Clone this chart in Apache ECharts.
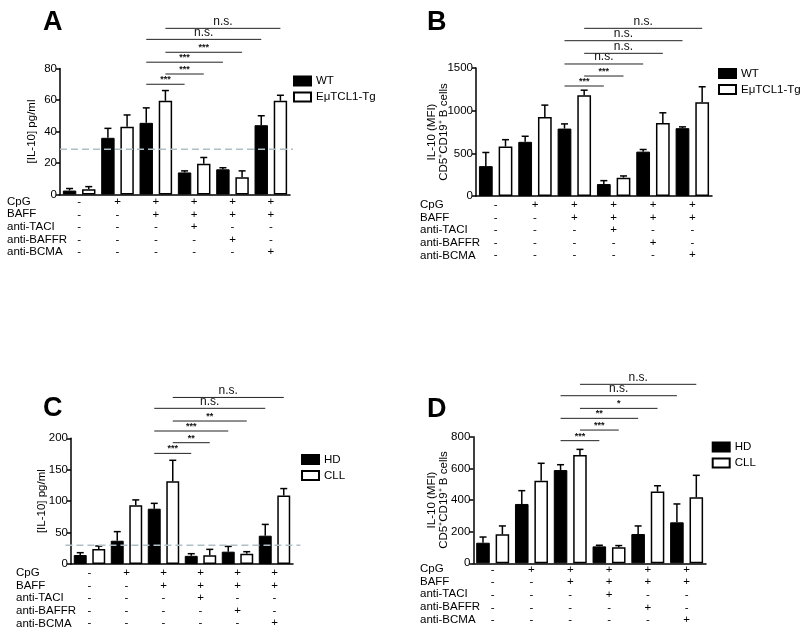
<!DOCTYPE html>
<html><head><meta charset="utf-8">
<script src="https://cdn.jsdelivr.net/npm/echarts@6/dist/echarts.min.js"></script>
<style>html,body{margin:0;padding:0;background:#fff}#c{width:800px;height:630px}</style>
</head><body><div id="c"></div><script>
// ---- condition table ----
const rowNames = ['CpG', 'BAFF', 'anti-TACI', 'anti-BAFFR', 'anti-BCMA'];
const cpg       = ['-', '+', '+', '+', '+', '+'];
const baff      = ['-', '-', '+', '+', '+', '+'];
const antiTACI  = ['-', '-', '-', '+', '-', '-'];
const antiBAFFR = ['-', '-', '-', '-', '+', '-'];
const antiBCMA  = ['-', '-', '-', '-', '-', '+'];
const groups = ['1', '2', '3', '4', '5', '6'];

// ---- Panel A : [IL-10] pg/ml, mouse ----
const aWT     = [2.5, 36, 45.5, 14, 16, 44];
const aWTErr  = [3.8, 42, 55, 15, 17, 50];
const aTg     = [3.3, 43, 59.5, 19.5, 11, 59.5];
const aTgErr  = [5, 50.5, 66, 23.5, 15, 63];
const aLimit  = 28.7;
const aSigFrom = [4, 5, 4, 5, 4, 5];
const aSigTo   = [6, 7, 8, 9, 10, 11];
const aSigY    = [70, 76.5, 84, 90.3, 98.5, 105.5];
const aSigText = ['***', '***', '***', '***', 'n.s.', 'n.s.'];

// ---- Panel B : IL-10 MFI, mouse ----
const bWT     = [350, 635, 790, 140, 520, 795];
const bWTErr  = [510, 700, 845, 180, 545, 810];
const bTg     = [580, 925, 1180, 215, 855, 1100];
const bTgErr  = [660, 1065, 1240, 235, 975, 1280];
const bSigFrom = [4, 5, 4, 5, 4, 5];
const bSigTo   = [6, 7, 8, 9, 10, 11];
const bSigY    = [1289, 1406, 1547, 1672, 1820, 1965];
const bSigText = ['***', '***', 'n.s.', 'n.s.', 'n.s.', 'n.s.'];

// ---- Panel C : [IL-10] pg/ml, human ----
const cHD     = [14.3, 37, 88, 13, 19.6, 45];
const cHDErr  = [18, 51.5, 96.5, 16.4, 28, 63];
const cCLL    = [24, 93.4, 131.5, 13.8, 16.4, 109];
const cCLLErr = [28.6, 102, 165, 23.3, 19.6, 120];
const cLimit  = 30;
const cSigFrom = [4, 5, 4, 5, 4, 5];
const cSigTo   = [6, 7, 8, 9, 10, 11];
const cSigY    = [176, 193, 211.6, 227.5, 247.7, 265];
const cSigText = ['***', '**', '***', '**', 'n.s.', 'n.s.'];

// ---- Panel D : IL-10 MFI, human ----
const dHD     = [130, 375, 589, 107, 185, 259];
const dHDErr  = [166, 459, 623, 114, 236, 375];
const dCLL    = [183, 522, 684, 101, 453, 417];
const dCLLErr = [236, 632, 720, 112, 490, 556];
const dSigFrom = [4, 5, 4, 5, 4, 5];
const dSigTo   = [6, 7, 8, 9, 10, 11];
const dSigY    = [775, 842, 916, 979, 1059, 1131];
const dSigText = ['***', '***', '**', '*', 'n.s.', 'n.s.'];

const FONT = "'Liberation Sans', Arial, Helvetica, sans-serif";
const chart = echarts.init(document.getElementById('c'), null, {renderer: 'canvas'});

const barCenter = k => Math.floor(k / 2) + (k % 2 ? 0.75 : 0.25);

const option = {
  backgroundColor: '#fff',
  animation: false,
  textStyle: {fontFamily: FONT, color: '#000'},
  grid: [], xAxis: [], yAxis: [], series: [], legend: [], graphic: []
};

function addPanel(p) {
  const gi = option.grid.length;
  option.grid.push({left: p.grid[0], top: p.grid[1], width: p.grid[2], height: p.grid[3], containLabel: false});
  const catIdx = option.xAxis.length;
  option.xAxis.push({
    type: 'category', gridIndex: gi, data: groups,
    axisLine: {lineStyle: {color: '#000', width: 1.5}},
    axisTick: {show: false},
    axisLabel: {
      interval: 0, margin: p.labelMargin, fontSize: 11.5, lineHeight: 12.6, color: '#000', fontFamily: FONT,
      formatter: (v, i) => [cpg[i], baff[i], antiTACI[i], antiBAFFR[i], antiBCMA[i]].join('\n')
    }
  });
  const valIdx = option.xAxis.length;
  option.xAxis.push({type: 'value', gridIndex: gi, min: 0, max: 6, show: false});
  const yi = option.yAxis.length;
  option.yAxis.push({
    type: 'value', gridIndex: gi, min: 0, max: p.max, interval: p.interval,
    name: p.yName, nameLocation: 'middle', nameGap: p.nameGap, nameMoveOverlap: false,
    nameTextStyle: {fontSize: 11.5, lineHeight: 12, color: '#000', fontFamily: FONT},
    axisLine: {show: true, lineStyle: {color: '#000', width: 1.5}},
    axisTick: {show: true, length: 4, lineStyle: {color: '#000', width: 1.5}},
    axisLabel: {fontSize: 11.5, color: '#000', margin: 3, fontFamily: FONT, formatter: v => String(v)},
    splitLine: {show: false}
  });
  const barCommon = {
    type: 'bar', xAxisIndex: catIdx, yAxisIndex: yi,
    barWidth: '35%', barGap: '43%'
  };
  option.series.push(Object.assign({}, barCommon, {
    name: p.names[0], data: p.v1,
    itemStyle: {color: '#000', borderColor: '#000', borderWidth: 1}
  }));
  option.series.push(Object.assign({}, barCommon, {
    name: p.names[1], data: p.v2,
    itemStyle: {color: '#fff', borderColor: '#000', borderWidth: 1.5}
  }));
  // error bars
  const errData = [];
  for (let i = 0; i < 6; i++) {
    errData.push([i + 0.25, p.v1[i], p.e1[i]]);
    errData.push([i + 0.75, p.v2[i], p.e2[i]]);
  }
  option.series.push({
    type: 'custom', xAxisIndex: valIdx, yAxisIndex: yi, clip: false, z: 3,
    encode: {x: 0, y: [1, 2]}, data: errData,
    renderItem: (params, api) => {
      const x = api.value(0);
      const p0 = api.coord([x, api.value(1)]);
      const p1 = api.coord([x, api.value(2)]);
      return {type: 'group', children: [
        {type: 'line', shape: {x1: p0[0], y1: p0[1], x2: p1[0], y2: p1[1]}, style: {stroke: '#000', lineWidth: 1.5}},
        {type: 'line', shape: {x1: p1[0] - 3.5, y1: p1[1], x2: p1[0] + 3.5, y2: p1[1]}, style: {stroke: '#000', lineWidth: 1.5}}
      ]};
    }
  });
  // detection limit
  if (p.limit != null) {
    option.series.push({
      type: 'custom', xAxisIndex: valIdx, yAxisIndex: yi, clip: false, z: 5,
      encode: {x: 0, y: 1}, data: [[p.limitX[0], p.limit, p.limitX[1]]],
      renderItem: (params, api) => {
        const a = api.coord([api.value(0), api.value(1)]);
        const b = api.coord([api.value(2), api.value(1)]);
        return {type: 'line', shape: {x1: a[0], y1: a[1], x2: b[0], y2: a[1]},
          style: {stroke: '#aebfc6', lineWidth: 1.5, lineDash: [7, 4]}};
      }
    });
  }
  // significance brackets
  const sigData = p.sigFrom.map((f, i) => [barCenter(f), p.sigY[i], barCenter(p.sigTo[i])]);
  option.series.push({
    type: 'custom', xAxisIndex: valIdx, yAxisIndex: yi, clip: false, z: 4,
    encode: {x: [0, 2], y: 1}, data: sigData,
    renderItem: (params, api) => {
      const a = api.coord([api.value(0), api.value(1)]);
      const b = api.coord([api.value(2), api.value(1)]);
      const t = p.sigText[params.dataIndex];
      const ns = t === 'n.s.';
      return {type: 'group', children: [
        {type: 'line', shape: {x1: a[0], y1: a[1], x2: b[0], y2: a[1]}, style: {stroke: '#222', lineWidth: 1}},
        {type: 'text', x: (a[0] + b[0]) / 2, y: a[1] - (ns ? 1 : 0),
          style: {text: t, textAlign: 'center', textVerticalAlign: 'bottom',
            font: (ns ? '12px ' : 'bold 9px ') + FONT, fill: '#111'}}
      ]};
    }
  });
  option.legend.push({
    data: p.names, orient: 'vertical', left: p.legend[0], top: p.legend[1],
    icon: 'rect', itemWidth: 17, itemHeight: 9, itemGap: 4, padding: 0, selectedMode: false,
    textStyle: {fontSize: 11.5, color: '#000', fontFamily: FONT}
  });
  option.graphic.push({
    type: 'text', left: p.letter[0], top: p.letter[1],
    style: {text: p.letterText, font: 'bold 27px ' + FONT, fill: '#000'}
  });
  option.graphic.push({
    type: 'text', left: p.rows[0], top: p.rows[1],
    style: {text: rowNames.join('\n'), font: '11.5px ' + FONT, lineHeight: 12.6, fill: '#000'}
  });
}

addPanel({
  grid: [60, 68.5, 230, 126], max: 80, interval: 20, labelMargin: 1,
  yName: '[IL-10] pg/ml', nameGap: 22,
  names: ['WT', 'EμTCL1-Tg'], v1: aWT, e1: aWTErr, v2: aTg, e2: aTgErr,
  limit: aLimit, limitX: [0, 6.08],
  sigFrom: aSigFrom, sigTo: aSigTo, sigY: aSigY, sigText: aSigText,
  legend: [293, 75], letter: [43, 9], letterText: 'A', rows: [7, 195.4]
});
addPanel({
  grid: [476, 68, 236, 128], max: 1500, interval: 500, labelMargin: 2.5,
  yName: 'IL-10 (MFI)\nCD5⁺CD19⁺ B cells', nameGap: 26,
  names: ['WT', 'EμTCL1-Tg'], v1: bWT, e1: bWTErr, v2: bTg, e2: bTgErr,
  limit: null,
  sigFrom: bSigFrom, sigTo: bSigTo, sigY: bSigY, sigText: bSigText,
  legend: [718, 67.5], letter: [427, 9], letterText: 'B', rows: [420, 198.7]
});
addPanel({
  grid: [71, 438.3, 222, 125.7], max: 200, interval: 50, labelMargin: 2.5,
  yName: '[IL-10] pg/ml', nameGap: 23,
  names: ['HD', 'CLL'], v1: cHD, e1: cHDErr, v2: cCLL, e2: cCLLErr,
  limit: cLimit, limitX: [-0.15, 6.2],
  sigFrom: cSigFrom, sigTo: cSigTo, sigY: cSigY, sigText: cSigText,
  legend: [301, 453.5], letter: [43, 395], letterText: 'C', rows: [16, 566.7]
});
addPanel({
  grid: [473.3, 436.7, 232.7, 126.6], max: 800, interval: 200, labelMargin: 0,
  yName: 'IL-10 (MFI)\nCD5⁺CD19⁺ B cells', nameGap: 23,
  names: ['HD', 'CLL'], v1: dHD, e1: dHDErr, v2: dCLL, e2: dCLLErr,
  limit: null,
  sigFrom: dSigFrom, sigTo: dSigTo, sigY: dSigY, sigText: dSigText,
  legend: [711.7, 441], letter: [427, 396], letterText: 'D', rows: [420, 562.7]
});

chart.setOption(option);
</script></body></html>
